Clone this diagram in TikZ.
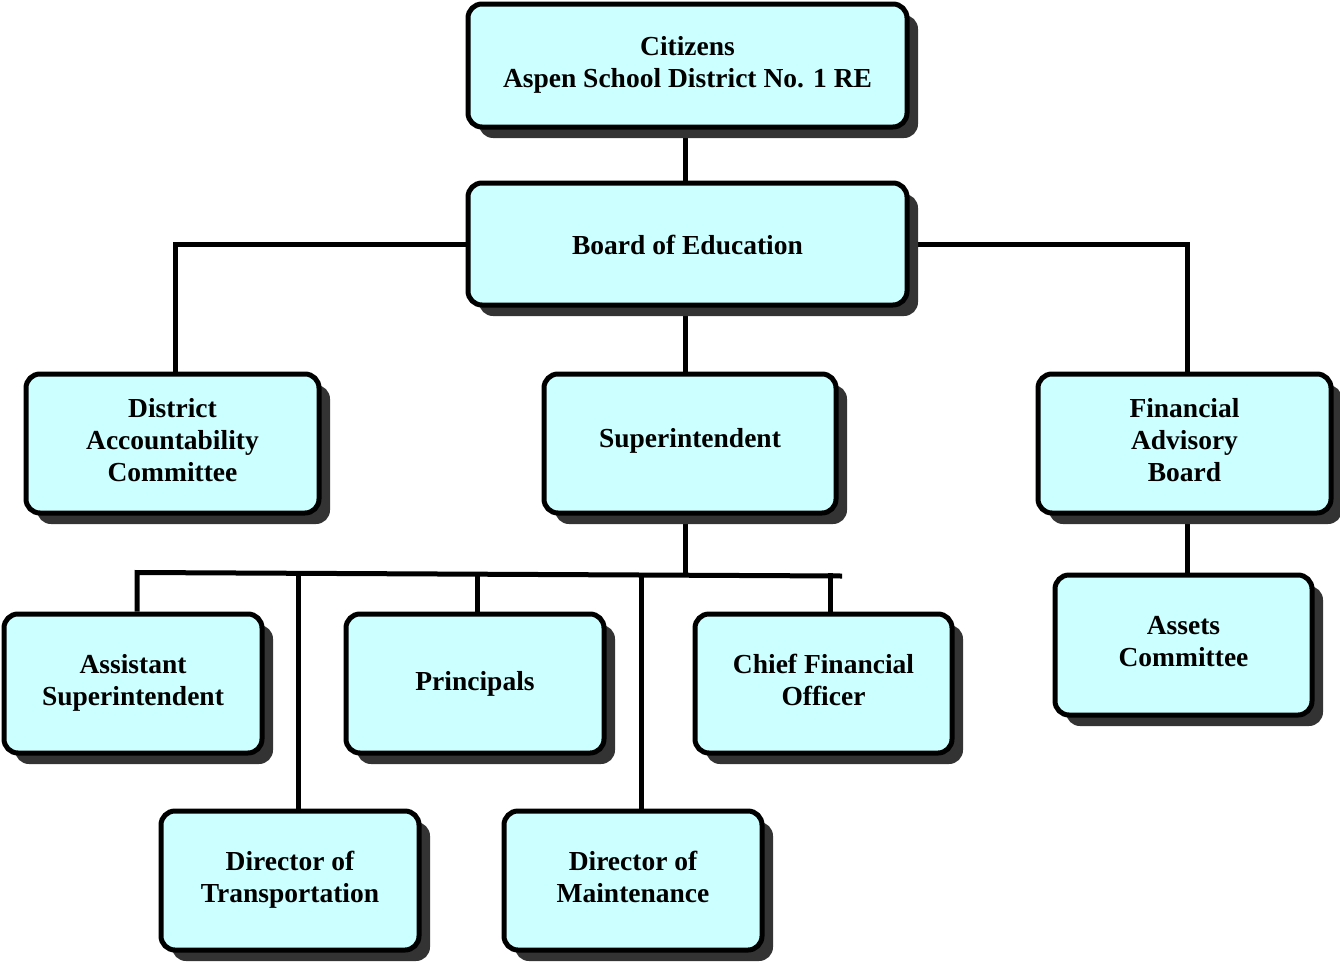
\documentclass[tikz,border=0pt]{standalone}
\usepackage{fontspec}
\setmainfont{Liberation Serif}
\usetikzlibrary{shadows}
\pgfdeclarelayer{background}
\pgfsetlayers{background,main}
\definecolor{boxfill}{HTML}{CCFFFF}
\definecolor{shadowgray}{HTML}{333333}
\begin{document}
\begin{tikzpicture}[x=1pt,y=-1pt,
  orgbox/.style={draw=black, line width=5pt, fill=boxfill, rounded corners=14pt,
    align=center, font=\fontsize{27.5}{32}\selectfont\bfseries, inner sep=0pt,
    text height=20pt, text depth=9pt,
    drop shadow={shadow xshift=11pt, shadow yshift=-11pt, fill=shadowgray, opacity=1}},
  twolines/.style={text height=52pt},
  threelines/.style={text height=84pt},
  link/.style={line width=5pt, draw=black}]
\useasboundingbox (0,0) rectangle (1340,961);
\node[orgbox, twolines, minimum width=439pt, minimum height=123pt] (cit) at (687.5,65.5) {Citizens\\Aspen School District No. 1 RE};
\node[orgbox, minimum width=439pt, minimum height=122pt, text height=24pt, text depth=4pt] (boe) at (687.5,244) {Board of Education};
\node[orgbox, threelines, minimum width=293pt, minimum height=139pt] (dac) at (172.5,443.5) {District\\Accountability\\Committee};
\node[orgbox, minimum width=292pt, minimum height=139pt, text depth=13pt] (sup) at (690,443.5) {Superintendent};
\node[orgbox, threelines, minimum width=293pt, minimum height=139pt] (fab) at (1184.5,443.5) {Financial\\Advisory\\Board};
\node[orgbox, twolines, minimum width=257pt, minimum height=140pt] (ac) at (1183.5,645) {Assets\\Committee};
\node[orgbox, twolines, minimum width=258pt, minimum height=139pt] (as) at (133,683.5) {Assistant\\Superintendent};
\node[orgbox, minimum width=258pt, minimum height=139pt, text depth=7pt] (pr) at (475,683.5) {Principals};
\node[orgbox, twolines, minimum width=257pt, minimum height=139pt] (cfo) at (823.5,683.5) {Chief Financial\\Officer};
\node[orgbox, twolines, minimum width=258pt, minimum height=139pt] (dt) at (290,880.5) {Director of\\Transportation};
\node[orgbox, twolines, minimum width=258pt, minimum height=139pt] (dm) at (633,880.5) {Director of\\Maintenance};
\coordinate (busL) at (137,572.5);
\coordinate (busR) at (842,576);
\begin{pgfonlayer}{background}
\draw[link] ([xshift=-2.5pt]cit.south) -- ([xshift=-2.5pt]boe.north);
\draw[link] (boe.west) -| ([xshift=2.5pt]dac.north);
\draw[link] (boe.east) -| ([xshift=2.5pt]fab.north);
\draw[link] ([xshift=-2.5pt]boe.south) -- ([xshift=-5pt]sup.north);
\draw[link] ([xshift=-5pt]sup.south) -- ([xshift=-5pt,yshift=-57pt]sup.south);
\draw[link] ([xshift=4pt]as.north) -- (busL) -- (busR);
\draw[link] ([xshift=8pt]dt.north) -- ([xshift=8pt]dt.north |- busL);
\draw[link] ([xshift=2pt]pr.north) -- ([xshift=2pt]pr.north |- busL);
\draw[link] ([xshift=8pt]dm.north) -- ([xshift=8pt]dm.north |- busL);
\draw[link] ([xshift=6.5pt]cfo.north) -- ([xshift=6.5pt]cfo.north |- busL);
\draw[link] ([xshift=2.5pt]fab.south) -- ([xshift=3.5pt]ac.north);
\end{pgfonlayer}
\end{tikzpicture}
\end{document}
